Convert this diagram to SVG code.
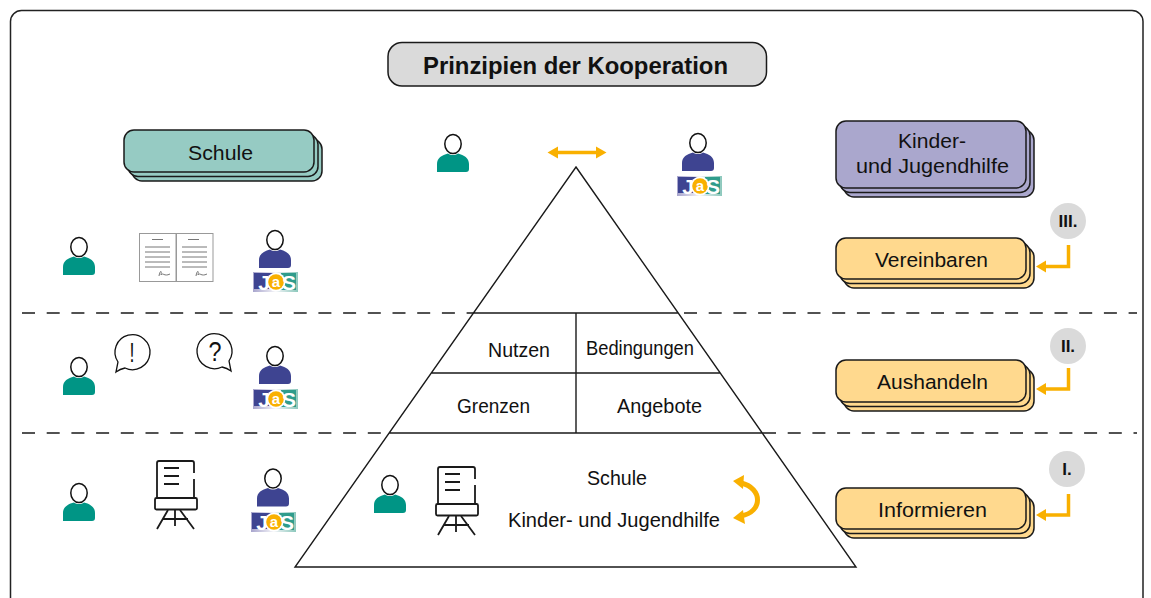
<svg xmlns="http://www.w3.org/2000/svg" width="1151" height="598" viewBox="0 0 1151 598">
<style>
text{font-family:"Liberation Sans",Arial,sans-serif;fill:#111}
.t{font-size:20.500px}
.c{text-anchor:middle}
.n{font-size:21px}
.b{font-weight:bold}
.ln{fill:none;stroke:#1a1a1a;stroke-width:1.4}
.dash{fill:none;stroke:#1a1a1a;stroke-width:1.5;stroke-dasharray:13 11.7}
.ye{fill:none;stroke:#f9b000;stroke-width:3.500}
.yf{fill:#f9b000}
.card{stroke:#1a1a1a;stroke-width:1.5}
.gr{fill:#96cbc3}.li{fill:#aaa7cd}.or{fill:#ffd98e}
.badge{fill:#dadada}
.fc{fill:none;stroke:#1a1a1a;stroke-width:1.800}
.dl{stroke:#777;stroke-width:1;fill:none}
.lg{font-weight:bold;text-anchor:middle;fill:#fff}
</style>
<defs>
<linearGradient id="lg"><stop offset="0" stop-color="#a8a5cd"/><stop offset=".5" stop-color="#f4f4f8"/><stop offset="1" stop-color="#8cc8bc"/></linearGradient>
<clipPath id="lc"><rect width="45" height="20"/></clipPath>
<g id="head"><ellipse cx="0" cy="0" rx="8.2" ry="9.6" fill="#fff" stroke="#111" stroke-width="1.5"/></g>
<path id="body" d="M-16,28V20C-16,14 -11,11 -5,9.5C-2,11.5 2,11.5 5,9.5C11,11 16,14 16,20V25Q16,28 13,28H-13Q-16,28 -16,28Z"/>
<g id="logo" clip-path="url(#lc)">
<rect width="45" height="20" fill="url(#lg)"/>
<rect x="1" y="1" width="20" height="16" fill="#3e4491"/>
<rect x="28" y="1" width="15" height="17" fill="#2f9c8c"/>
<text x="11" y="17.500" class="lg" font-size="21">J</text>
<circle cx="23" cy="10" r="9.5" fill="#fff"/>
<circle cx="23" cy="10" r="7.800" fill="#f9b000"/>
<text x="23" y="15" text-anchor="middle" font-size="15" font-weight="bold" style="fill:#fff">a</text>
<text x="36" y="17.500" class="lg" font-size="21">S</text>
</g>
<g id="flip" class="fc">
<path d="M157,498V463Q157,461 159,461H192Q194,461 194,463V473M194,479V498"/>
<rect x="155" y="498" width="42" height="11.500" rx="1.500"/>
<path d="M164,468H179M164,476H179M164,484H179M168,510L157,529M180,510L194,529M175,510V526M163,519H188"/>
</g>
</defs>

<rect id="frame" x="10.500" y="10.500" width="1132.500" height="600" rx="11" fill="#fff" stroke="#222" stroke-width="1.500"/>

<g id="title">
<rect x="388" y="42.500" width="378.500" height="43.500" rx="14" fill="#dadada" stroke="#1a1a1a" stroke-width="1.500"/>
<text x="423" y="74" font-size="24.500" class="b" textLength="305" lengthAdjust="spacingAndGlyphs">Prinzipien der Kooperation</text>
</g>

<g id="connectors">
<path class="dash" d="M22,313H474M684,313H1137M22,433H389M763,433H1137"/>
<path class="ye" d="M555,152.500H599"/>
<path class="yf" d="M547.500,152.500L558,146.500V158.500ZM606.500,152.500L596,146.500V158.500Z"/>
<path class="ye" d="M1068.500,245V266.500H1042"/>
<path class="yf" d="M1036,266.500L1046,260.500V272.500Z"/>
<path class="ye" d="M1068.500,368V389H1042"/>
<path class="yf" d="M1036,389L1046,383V395Z"/>
<path class="ye" d="M1068.500,494V515H1042"/>
<path class="yf" d="M1036,515L1046,509V521Z"/>
<path d="M741,483C763,488 763,512 741,516" fill="none" stroke="#f9b000" stroke-width="5"/>
<path class="yf" d="M733,481L744,475L743,489ZM733,518L743,510L745,524Z"/>
</g>

<g id="pyramid">
<path class="ln" d="M576,167L856,567H295ZM473.500,313H678.500M431,373H720.500M389,433H763M576,313V433"/>
<text x="488" y="357" class="n" textLength="62" lengthAdjust="spacingAndGlyphs">Nutzen</text>
<text x="586" y="355" class="n" textLength="108" lengthAdjust="spacingAndGlyphs">Bedingungen</text>
<text x="457" y="413" class="n" textLength="73" lengthAdjust="spacingAndGlyphs">Grenzen</text>
<text x="617" y="413" class="n" textLength="85" lengthAdjust="spacingAndGlyphs">Angebote</text>
<text x="587" y="485" class="n" textLength="60" lengthAdjust="spacingAndGlyphs">Schule</text>
<text x="508" y="527" class="n" textLength="212" lengthAdjust="spacingAndGlyphs">Kinder- und Jugendhilfe</text>
</g>

<g id="schule">
<rect class="card gr" x="132" y="139" width="190" height="42" rx="10"/>
<rect class="card gr" x="128" y="134.500" width="190" height="42" rx="10"/>
<rect class="card gr" x="124" y="130" width="190" height="42" rx="10"/>
<text x="220.500" y="159.500" class="t c" textLength="65" lengthAdjust="spacingAndGlyphs">Schule</text>
</g>
<g id="jugendhilfe">
<rect class="card li" x="844" y="130" width="190" height="67" rx="10"/>
<rect class="card li" x="840" y="125.500" width="190" height="67" rx="10"/>
<rect class="card li" x="836" y="121" width="190" height="67" rx="10"/>
<text x="932" y="148" class="t c" textLength="68" lengthAdjust="spacingAndGlyphs">Kinder-</text>
<text x="932.500" y="173" class="t c" textLength="153" lengthAdjust="spacingAndGlyphs">und Jugendhilfe</text>
</g>
<g id="vereinbaren">
<rect class="card or" x="844" y="247" width="190" height="41" rx="10"/>
<rect class="card or" x="840" y="242.500" width="190" height="41" rx="10"/>
<rect class="card or" x="836" y="238" width="190" height="41" rx="10"/>
<text x="931.500" y="267" class="t c" textLength="113" lengthAdjust="spacingAndGlyphs">Vereinbaren</text>
</g>
<g id="aushandeln">
<rect class="card or" x="844" y="369" width="190" height="42" rx="10"/>
<rect class="card or" x="840" y="364.500" width="190" height="42" rx="10"/>
<rect class="card or" x="836" y="360" width="190" height="42" rx="10"/>
<text x="932.500" y="388.500" class="t c" textLength="111" lengthAdjust="spacingAndGlyphs">Aushandeln</text>
</g>
<g id="informieren">
<rect class="card or" x="844" y="497" width="190" height="41" rx="10"/>
<rect class="card or" x="840" y="492.500" width="190" height="41" rx="10"/>
<rect class="card or" x="836" y="488" width="190" height="41" rx="10"/>
<text x="932.500" y="517" class="t c" textLength="109" lengthAdjust="spacingAndGlyphs">Informieren</text>
</g>

<g id="badge3"><circle class="badge" cx="1068" cy="221" r="18"/><text x="1068" y="227" font-size="17" class="b c">III.</text></g>
<g id="badge2"><circle class="badge" cx="1068" cy="346" r="18"/><text x="1068" y="352" font-size="17" class="b c">II.</text></g>
<g id="badge1"><circle class="badge" cx="1067" cy="469" r="18"/><text x="1067" y="475" font-size="17" class="b c">I.</text></g>

<g id="persons-school" fill="#009585">
<use href="#body" x="453" y="144"/><use href="#head" x="453" y="144"/>
<use href="#body" x="79" y="247"/><use href="#head" x="79" y="247"/>
<use href="#body" x="79" y="367"/><use href="#head" x="79" y="367"/>
<use href="#body" x="79" y="493"/><use href="#head" x="79" y="493"/>
<use href="#body" x="390" y="485"/><use href="#head" x="390" y="485"/>
</g>
<g id="persons-jas" fill="#3e4491">
<use href="#body" x="698" y="143"/><use href="#head" x="698" y="143"/><use href="#logo" x="677" y="176"/>
<use href="#body" x="275" y="240"/><use href="#head" x="275" y="240"/><use href="#logo" x="253" y="272"/>
<use href="#body" x="275" y="356"/><use href="#head" x="275" y="356"/><use href="#logo" x="253" y="389"/>
<use href="#body" x="273" y="478.500"/><use href="#head" x="273" y="478.500"/><use href="#logo" x="251" y="512"/>
</g>

<g id="contract">
<rect x="139.500" y="233.500" width="36.500" height="48" fill="#fff" stroke="#999"/>
<rect x="176.500" y="233.500" width="36.500" height="48" fill="#fff" stroke="#999"/>
<path class="dl" d="M152,239.500H163M145,247H170M145,252H170M145,257H170M145,262H170M145,267H170M188,239.500H199M182,247H207M182,252H207M182,257H207M182,262H207M182,267H207"/>
<path class="dl" d="M159,276C160,270 162,270 161,275C163,272 164,277 170,274M196,276C197,270 199,270 198,275C200,272 201,277 207,274"/>
</g>

<g id="bubble-exclaim">
<path d="M116,372L118,362A17.500,17.500 0 1 1 125,368Q120,369 116,372Z" fill="#fff" stroke="#111" stroke-width="1.300"/>
<text x="132" y="362" font-size="27" class="c" textLength="5" lengthAdjust="spacingAndGlyphs">!</text>
</g>
<g id="bubble-question">
<path d="M231,371L229,361A17.500,17.500 0 1 0 222,367Q227,368 231,371Z" fill="#fff" stroke="#111" stroke-width="1.300"/>
<text x="215" y="361" font-size="28" class="c" textLength="13" lengthAdjust="spacingAndGlyphs">?</text>
</g>

<g id="flipchart-left"><use href="#flip" x="0" y="0"/></g>
<g id="flipchart-inner"><use href="#flip" x="281" y="6"/></g>
</svg>
